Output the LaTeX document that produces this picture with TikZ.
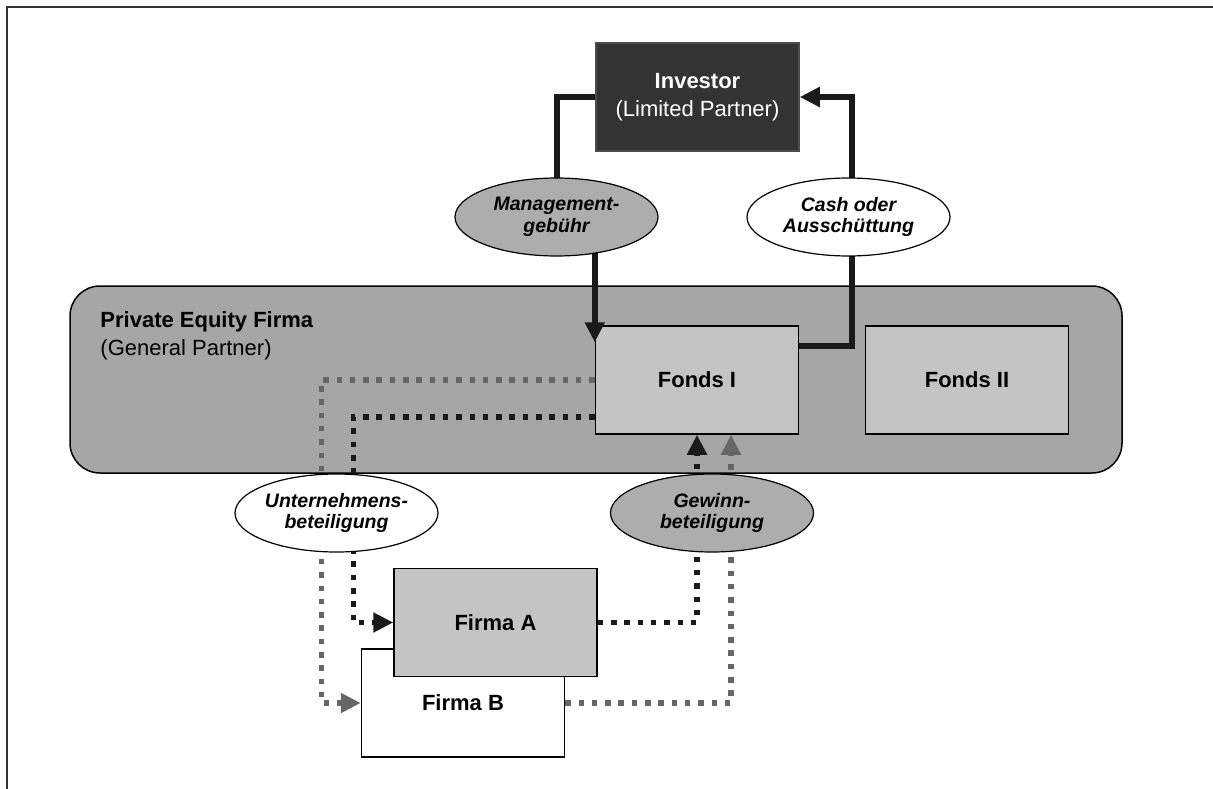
\documentclass[tikz,border=0pt]{standalone}
\usepackage{fontspec}
\setmainfont{Liberation Sans}
\usetikzlibrary{arrows.meta,shapes.geometric}
\pgfdeclarelayer{back}
\pgfdeclarelayer{front}
\pgfsetlayers{back,main,front}
\definecolor{darkbox}{HTML}{333333}
\definecolor{firmgray}{HTML}{A6A6A6}
\definecolor{fondsgray}{HTML}{C4C4C4}
\definecolor{ovalgray}{HTML}{ADADAD}
\definecolor{linegray}{HTML}{666666}
\definecolor{lineblack}{HTML}{1A1A1A}

\begin{document}
\begin{tikzpicture}[x=1pt, y=-1pt,
    box/.style={draw, line width=1.5pt, inner sep=0pt, align=center,
        minimum width=203pt, minimum height=108pt,
        font=\fontsize{22}{28}\selectfont},
    oval/.style={ellipse, draw, line width=1.2pt, inner sep=0pt, align=center,
        minimum width=203pt, minimum height=78pt,
        font=\fontsize{19.5}{21.5}\selectfont\bfseries\itshape},
    money/.style={lineblack, line width=6pt},
    share/.style={line width=5.5pt, dash pattern=on 5.5pt off 7.8pt},
    tip/.style={-{Triangle[length=20pt, width=19pt]}}]
    \useasboundingbox (0,0) rectangle (1213,789);
    \draw[line width=2pt, black!80] (7,789) -- (7,7) -- (1213,7);

    % general partner
    \begin{pgfonlayer}{back}
        \node[draw, line width=1.5pt, fill=firmgray, rounded corners=30pt,
            minimum width=1052pt, minimum height=187pt] (pe) at (596,379.5) {};
    \end{pgfonlayer}
    \node[anchor=north west, inner sep=0pt, align=left, font=\fontsize{22}{28}\selectfont]
        (pelabel) at ([xshift=31pt, yshift=-26pt]pe.north west)
        {\textbf{Private Equity Firma}\\(General Partner)};

    \node[box, fill=darkbox, draw=black!70, text=white] (investor) at (697.5,97)
        {\textbf{Investor}\\(Limited Partner)};
    \node[box, fill=fondsgray] (fonds1) at (697,380) {\textbf{Fonds I}};
    \node[box, fill=fondsgray] (fonds2) at (967,380) {\textbf{Fonds II}};
    \node[box, fill=white] (firmB) at (463,703) {\textbf{Firma B}};
    \node[box, fill=fondsgray] (firmA) at (495.5,622.5) {\textbf{Firma A}};

    \begin{pgfonlayer}{front}
        \node[oval, fill=ovalgray] (mgmt) at (556.5,217) {Management-\\gebühr};
        \node[oval, fill=white] (cash) at (848.5,217) {Cash oder\\Ausschüttung};
        \node[oval, fill=white] (untern) at (336.5,513) {Unternehmens-\\beteiligung};
        \node[oval, fill=ovalgray] (gewinn) at (712,513) {Gewinn-\\beteiligung};
    \end{pgfonlayer}

    % money flows
    \draw[money, tip, shorten >=-17pt] (investor.west) -| (mgmt.center) -| (fonds1.north west);
    \draw[money, tip] ([yshift=-21pt]fonds1.north east) -| ([xshift=3pt]cash.center) |- (investor.east);

    % holdings
    \draw[share, linegray, tip] (fonds1.west) -| ([xshift=-15pt]untern.center) |- (firmB.west);
    \draw[share, lineblack, tip] ([yshift=-37pt]fonds1.west) -| ([xshift=17pt]untern.center) |- (firmA.west);
    \draw[share, lineblack, tip] (firmA.east) -| (fonds1.south);
    \draw[share, linegray, tip] (firmB.east) -| ([xshift=34pt]fonds1.south);
\end{tikzpicture}
\end{document}
